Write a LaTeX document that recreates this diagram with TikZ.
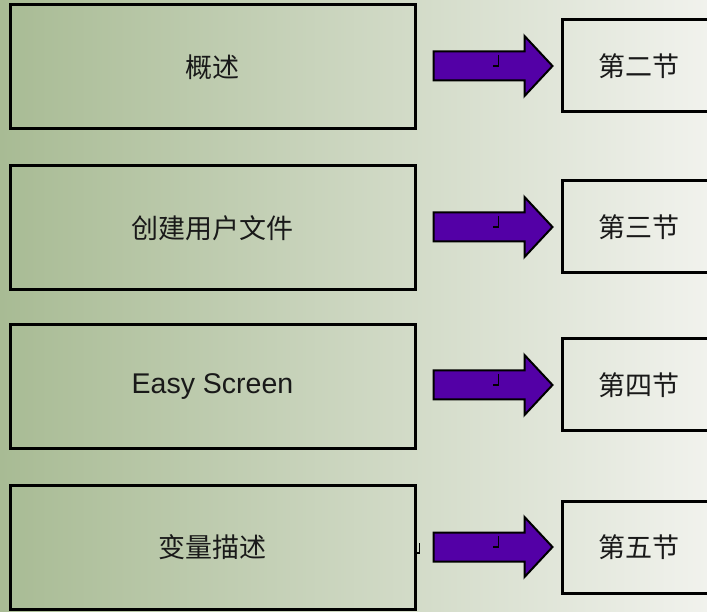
\documentclass[tikz,border=0pt]{standalone}
\usepackage{fontspec}
\setmainfont{Liberation Sans}
\newfontfamily\cjk{Noto Sans CJK SC}
\usetikzlibrary{calc}
\definecolor{bgleft}{RGB}{168,187,148}
\definecolor{bgright}{RGB}{241,242,237}
\definecolor{arrowfill}{RGB}{83,0,166}
\definecolor{txt}{RGB}{25,25,25}
\tikzset{
  leftbox/.style={draw=black, line width=3pt, minimum width=405pt, minimum height=124pt, inner sep=0pt, text=txt, font=\cjk\fontsize{27}{32}\selectfont},
  rightbox/.style={draw=black, line width=3pt, minimum width=154pt, minimum height=92pt, inner sep=0pt, text=txt, font=\cjk\fontsize{27}{32}\selectfont},
  blockarrow/.style={draw=black, line width=2pt, fill=arrowfill, line join=miter},
  tickmark/.style={draw=black, line width=1.3pt},
  blockarrowpic/.pic={
    \path[blockarrow] (0,-14.5) -- (91,-14.5) -- (91,-30) -- (119,0) -- (91,30) -- (91,14.5) -- (0,14.5) -- cycle;
    \path[tickmark] (65,11) -- (65,0) -- (59,0);
  }
}
\begin{document}
\begin{tikzpicture}[x=1pt,y=1pt]
\useasboundingbox (0,0) rectangle (707,611);
\clip (0,0) rectangle (707,611);
\shade[left color=bgleft, right color=bgright] (0,0) rectangle (707,611);

\node[leftbox] (L1) at (212.5,544) {概述};
\node[leftbox] (L2) at (212.5,383) {创建用户文件};
\node[leftbox, font=\fontsize{28.5}{32}\selectfont] (L3) at (212.5,224) {Easy Screen};
\node[leftbox] (L4) at (212.5,64) {变量描述};

\node[rightbox] (R1) at (639,545) {第二节};
\node[rightbox] (R2) at (639,384) {第三节};
\node[rightbox] (R3) at (639,226) {第四节};
\node[rightbox] (R4) at (639,64) {第五节};

\coordinate (A1) at ($(L1.east |- R1.center)+(17,0)$);
\coordinate (A2) at ($(L2.east |- R2.center)+(17,0)$);
\coordinate (A3) at ($(L3.east |- R3.center)+(17,0)$);
\coordinate (A4) at ($(L4.east |- R4.center)+(17,0)$);
\pic at (A1) {blockarrowpic};
\pic at (A2) {blockarrowpic};
\pic at (A3) {blockarrowpic};
\pic at (A4) {blockarrowpic};

\coordinate (M4) at ($(L4.east)+(3,-6)$);
\path[tickmark] ($(M4)+(0,10)$) -- (M4) -- ($(M4)+(-6,0)$);
\end{tikzpicture}
\end{document}
